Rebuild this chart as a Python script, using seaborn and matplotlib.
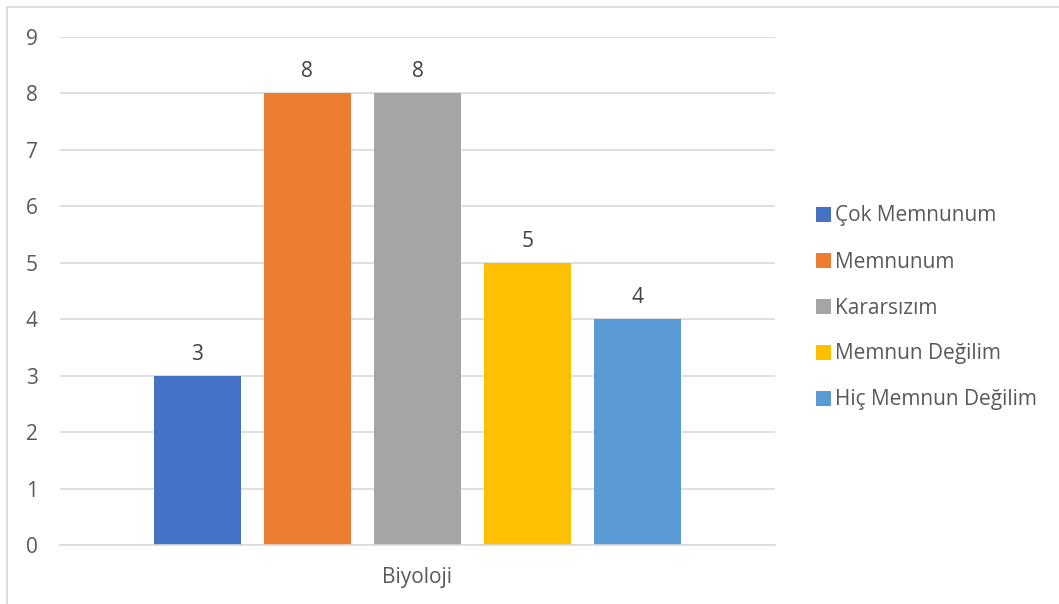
import pandas as pd
import seaborn as sns
import matplotlib.pyplot as plt
from matplotlib.patches import Patch
from matplotlib.lines import Line2D

# Data
categories = ['Biyoloji']
responses = ['Çok Memnunum', 'Memnunum', 'Kararsızım', 'Memnun Değilim', 'Hiç Memnun Değilim']
counts = [3, 8, 8, 5, 4]
colors = ['#4472C4', '#ED7D31', '#A5A5A5', '#FFC000', '#5B9BD5']

df = pd.DataFrame({'Ders': categories * len(responses), 'Cevap': responses, 'Sayı': counts})

sns.set_style('white')
plt.rcParams['font.family'] = ['Open Sans', 'DejaVu Sans']
text_color = '#595959'
fs = 15

fig = plt.figure(figsize=(10.59, 6.04), dpi=100)
ax = fig.add_axes([60 / 1059, 59 / 604, 715 / 1059, 508 / 604])

sns.barplot(data=df, x='Ders', y='Sayı', hue='Cevap', hue_order=responses,
            palette=colors, width=0.77, gap=0.21, saturation=1, legend=False,
            linewidth=0, ax=ax)

for c in ax.containers:
    ax.bar_label(c, padding=8, fontsize=fs, color='#404040')

ax.set_ylim(0, 9)
ax.set_xlim(-0.5, 0.5)
ax.set_yticks(range(0, 10))
ax.yaxis.grid(True, color='#D9D9D9', linewidth=1.2)
ax.set_axisbelow(True)
for s in ['top', 'right', 'left']:
    ax.spines[s].set_visible(False)
ax.spines['bottom'].set_color('#D9D9D9')
ax.spines['bottom'].set_linewidth(1.2)
ax.tick_params(axis='y', length=0, pad=16, labelsize=fs, labelcolor=text_color)
ax.tick_params(axis='x', length=0, pad=16, labelsize=fs, labelcolor=text_color)
ax.set_xlabel('')
ax.set_ylabel('')

handles = [Patch(facecolor=col, edgecolor='none') for col in colors]
fig.legend(handles, responses, loc='center left', bbox_to_anchor=(816 / 1059, 296 / 604),
           frameon=False, fontsize=fs, labelcolor=text_color,
           handlelength=0.7, handleheight=0.7, handletextpad=0.2, labelspacing=1.2,
           borderaxespad=0, borderpad=0)

# light chart border
fig.add_artist(Line2D([7 / 1059, 7 / 1059], [0, 1 - 7 / 604], color='#D9D9D9', linewidth=1.2,
                      transform=fig.transFigure))
fig.add_artist(Line2D([7 / 1059, 1], [1 - 7 / 604, 1 - 7 / 604], color='#D9D9D9', linewidth=1.2,
                      transform=fig.transFigure))

fig.savefig('out.png', dpi=100)
